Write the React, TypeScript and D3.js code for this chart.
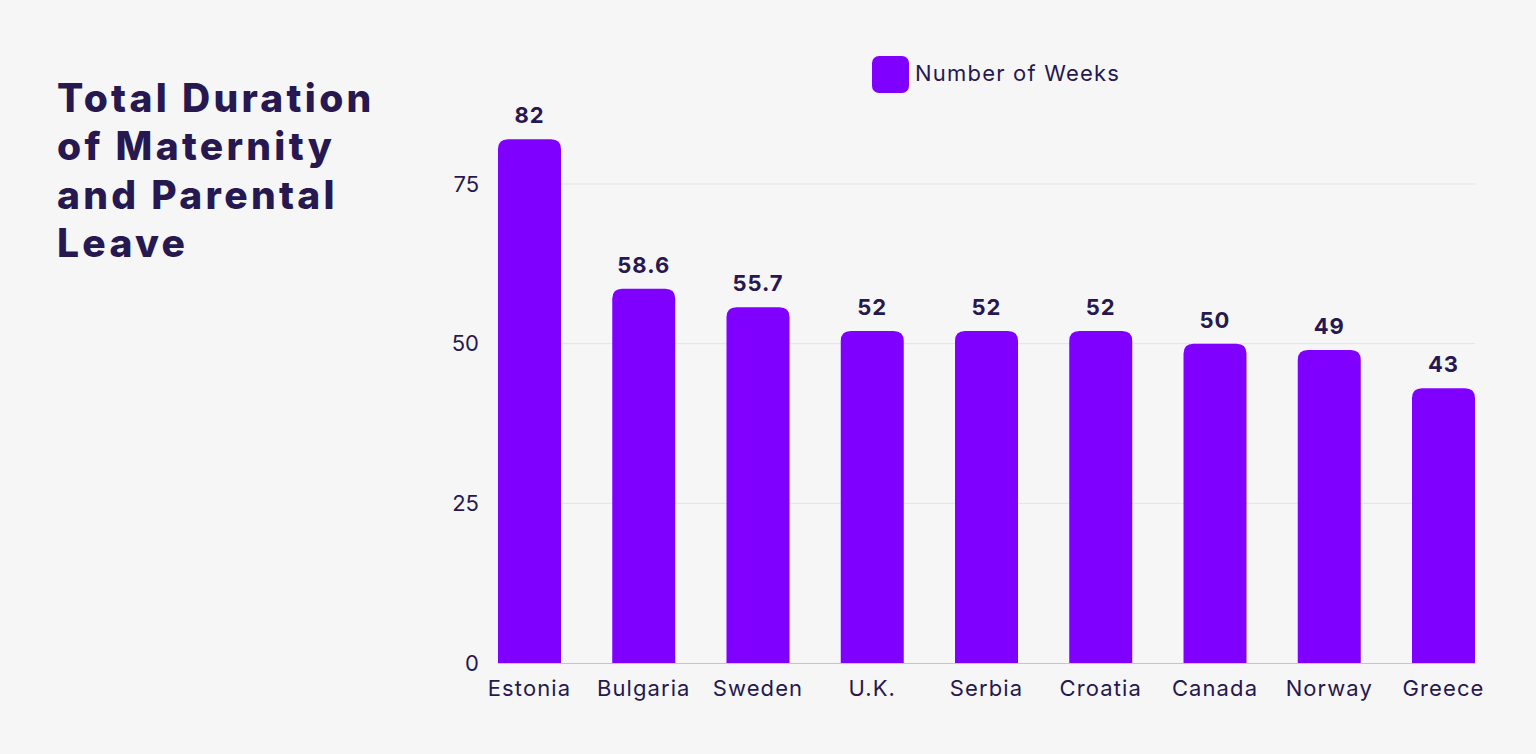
import React, { useEffect, useRef } from "react";
import * as d3 from "d3";

const countries = ["Estonia", "Bulgaria", "Sweden", "U.K.", "Serbia", "Croatia", "Canada", "Norway", "Greece"];
const weeks = [82, 58.6, 55.7, 52, 52, 52, 50, 49, 43];
const yTicks = [0, 25, 50, 75];
const titleLines = ["Total Duration", "of Maternity", "and Parental", "Leave"];
const seriesName = "Number of Weeks";

const W = 1536;
const H = 754;
const FONT = "Inter, 'Open Sans', sans-serif";
const INK = "#27184f";
const BAR = "#8000ff";

const App = () => {
  const svgRef = useRef<SVGSVGElement>(null);

  useEffect(() => {
    const svg = d3.select(svgRef.current);
    svg.selectAll("*").remove();

    svg.append("rect").attr("width", W).attr("height", H).attr("fill", "#f6f6f6");

    const x = d3.scaleBand().domain(countries).range([498, 1475]).paddingInner(0.4486).paddingOuter(0);
    const y = d3.scaleLinear().domain([0, 75]).range([663, 184]);

    // gridlines
    svg
      .append("g")
      .selectAll("line")
      .data(yTicks.filter((t) => t > 0))
      .join("line")
      .attr("x1", 498)
      .attr("x2", 1475)
      .attr("y1", (d) => y(d))
      .attr("y2", (d) => y(d))
      .attr("stroke", "#e3e3e6")
      .attr("stroke-width", 1);

    // y tick labels
    svg
      .append("g")
      .selectAll("text")
      .data(yTicks)
      .join("text")
      .attr("x", 479)
      .attr("y", (d) => y(d))
      .attr("dy", "0.35em")
      .attr("text-anchor", "end")
      .style("font-family", FONT)
      .style("font-size", "22px")
      .attr("fill", INK)
      .text((d) => d);

    // bars with rounded tops
    const r = 10;
    const bw = x.bandwidth();
    svg
      .append("g")
      .selectAll("path")
      .data(weeks)
      .join("path")
      .attr("fill", BAR)
      .attr("d", (d, i) => {
        const x0 = x(countries[i])!;
        const y0 = y(d);
        const yb = y(0);
        const p = d3.path();
        p.moveTo(x0, yb);
        p.lineTo(x0, y0 + r);
        p.quadraticCurveTo(x0, y0, x0 + r, y0);
        p.lineTo(x0 + bw - r, y0);
        p.quadraticCurveTo(x0 + bw, y0, x0 + bw, y0 + r);
        p.lineTo(x0 + bw, yb);
        p.closePath();
        return p.toString();
      });

    // baseline
    svg
      .append("line")
      .attr("x1", 498)
      .attr("x2", 1475)
      .attr("y1", y(0) + 0.5)
      .attr("y2", y(0) + 0.5)
      .attr("stroke", "#c9c0de")
      .attr("stroke-width", 1);

    // value labels
    svg
      .append("g")
      .selectAll("text")
      .data(weeks)
      .join("text")
      .attr("x", (d, i) => x(countries[i])! + bw / 2)
      .attr("y", (d) => y(d) - 16)
      .attr("text-anchor", "middle")
      .style("font-family", FONT)
      .style("font-size", "22px")
      .style("font-weight", 700)
      .style("letter-spacing", "1px")
      .attr("fill", INK)
      .text((d) => d);

    // x labels
    svg
      .append("g")
      .selectAll("text")
      .data(countries)
      .join("text")
      .attr("x", (d) => x(d)! + bw / 2)
      .attr("y", 696)
      .attr("text-anchor", "middle")
      .style("font-family", FONT)
      .style("font-size", "22px")
      .style("letter-spacing", "1.1px")
      .attr("fill", INK)
      .text((d) => d);

    // legend
    svg
      .append("rect")
      .attr("x", 872)
      .attr("y", 56)
      .attr("width", 37)
      .attr("height", 37)
      .attr("rx", 7)
      .attr("fill", BAR);
    svg
      .append("text")
      .attr("x", 915)
      .attr("y", 81)
      .style("font-family", FONT)
      .style("font-size", "22px")
      .style("letter-spacing", "1.2px")
      .attr("fill", INK)
      .text(seriesName);

    // title
    svg
      .append("g")
      .selectAll("text")
      .data(titleLines)
      .join("text")
      .attr("x", 57)
      .attr("y", (d, i) => 112 + i * 48.3)
      .style("font-family", FONT)
      .style("font-size", "39px")
      .style("font-weight", 800)
      .style("letter-spacing", "3.3px")
      .attr("fill", INK)
      .text((d) => d);
  }, []);

  return (
    <svg
      ref={svgRef}
      width={W}
      height={H}
      style={{ position: "absolute", left: 0, top: 0, display: "block" }}
    />
  );
};

export default App;
